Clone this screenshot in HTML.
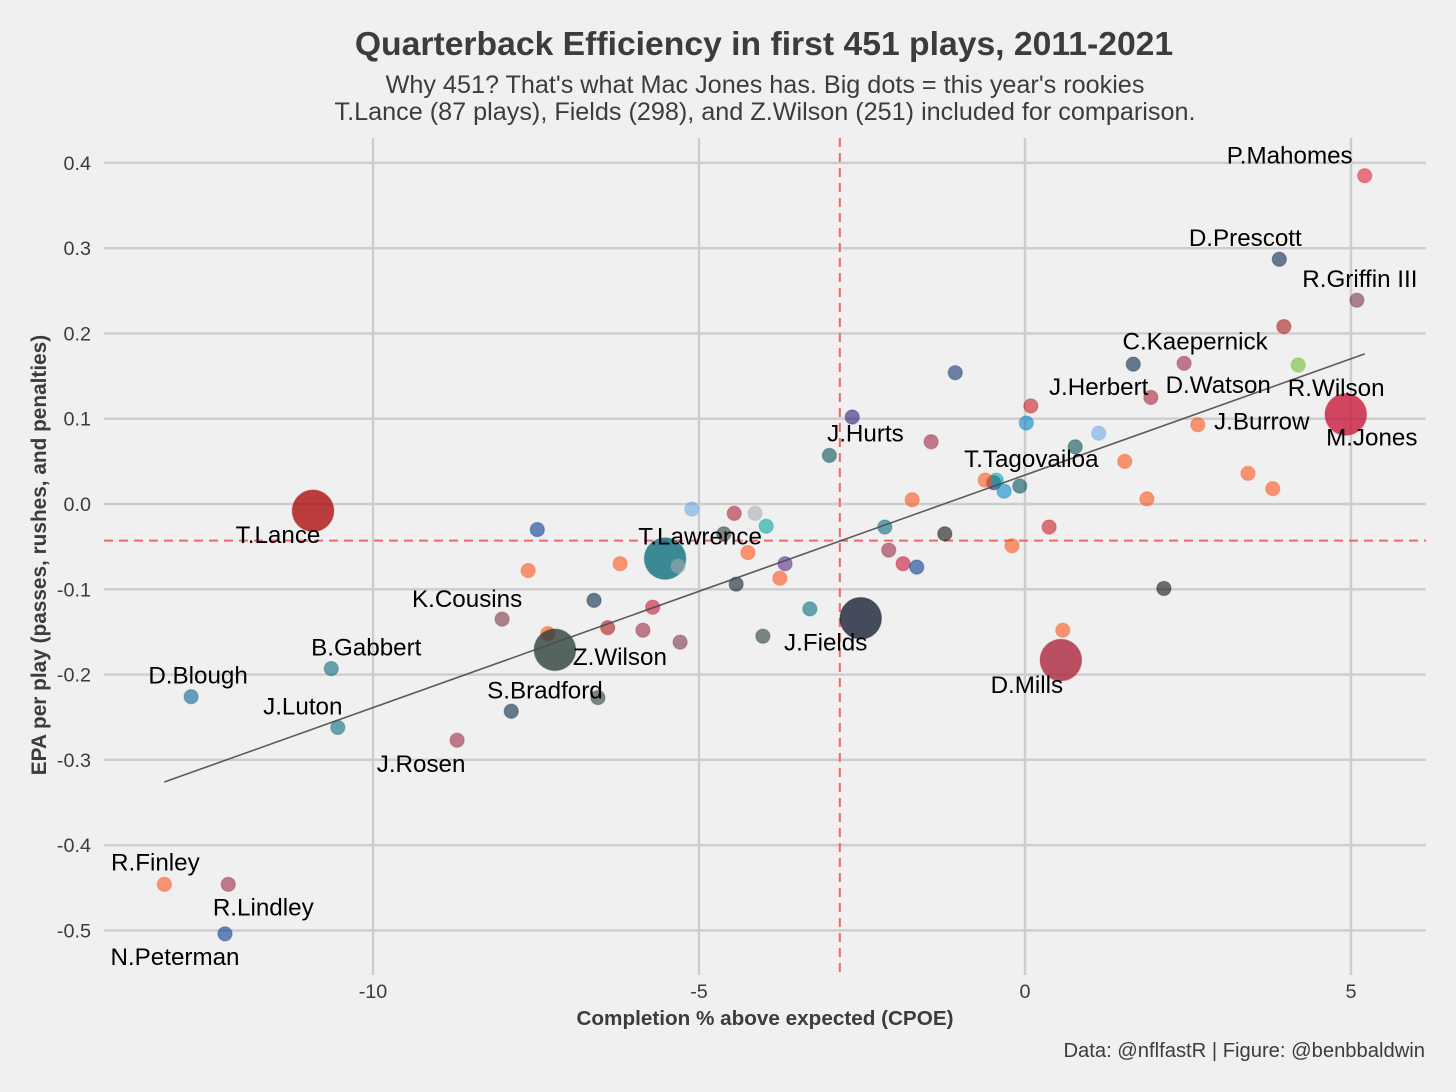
<!DOCTYPE html>
<html lang="en">
<head>
<meta charset="utf-8">
<title>Quarterback Efficiency in first 451 plays, 2011-2021</title>
<style>
html,body{margin:0;padding:0;background:#f0f0f0;width:1456px;height:1092px;overflow:hidden}
svg{display:block;font-family:"Liberation Sans",Arial,sans-serif}
</style>
</head>
<body>
<svg id="chart" xmlns="http://www.w3.org/2000/svg" width="1456" height="1092" viewBox="0 0 1456 1092">
  <rect x="0" y="0" width="1456" height="1092" fill="#f0f0f0"/>
  <g id="grid"></g>
  <g id="refs"></g>
  <g id="points"></g>
  <g id="trend"></g>
  <g id="labels"></g>
  <g id="ticks"></g>
  <text x="764" y="55" text-anchor="middle" font-size="33.7" font-weight="700" fill="#3c3c3c">Quarterback Efficiency in first 451 plays, 2011-2021</text>
  <text x="765" y="93" text-anchor="middle" font-size="25.2" fill="#3c3c3c">Why 451? That's what Mac Jones has. Big dots = this year's rookies</text>
  <text x="765" y="120" text-anchor="middle" font-size="25.2" fill="#3c3c3c">T.Lance (87 plays), Fields (298), and Z.Wilson (251) included for comparison.</text>
  <text x="765" y="1025" text-anchor="middle" font-size="20.7" font-weight="700" fill="#3c3c3c">Completion % above expected (CPOE)</text>
  <text transform="translate(46,555) rotate(-90)" text-anchor="middle" font-size="20.8" font-weight="700" fill="#3c3c3c">EPA per play (passes, rushes, and penalties)</text>
  <text x="1425" y="1057" text-anchor="end" font-size="20.2" fill="#3c3c3c">Data: @nflfastR | Figure: @benbbaldwin</text>
</svg>
<script>
const xTickLabels = ["-10", "-5", "0", "5"];
const yTickLabels = ["0.4", "0.3", "0.2", "0.1", "0.0", "-0.1", "-0.2", "-0.3", "-0.4", "-0.5"];
const meanCpoe = -2.84;
const meanEpa = -0.043;
const trendCpoe = [-13.2, 5.21];
const trendEpa = [-0.326, 0.176];

const players = ["P.Mahomes","D.Prescott","R.Griffin III","","R.Wilson","D.Watson","C.Kaepernick","","","","","J.Herbert","J.Burrow","","","","","","","","","T.Tagovailoa","","","","","J.Hurts","","","","","","","","","","","","","","","","","","","","","","","","","","","","","K.Cousins","","S.Bradford","","J.Rosen","J.Luton","B.Gabbert","D.Blough","R.Finley","R.Lindley","N.Peterman","M.Jones","T.Lance","T.Lawrence","Z.Wilson","J.Fields","D.Mills",""];
const teams = ["KC","DAL","WAS","TB","SEA","DAL","ARI","LAR","ATL","HOU","LAC","LAR2","CIN","PHI","CIN","CIN","CIN","CIN","PHI","CAR","BAL","MIA","CIN","ARI","CIN","BAL","PHI","JAX","PIT","HOU","CIN","ARI","NE","BUF","PIT","CIN","JAX","NYJ","CIN","MIN","CHI","CIN","NYJ","MIA","OAK","ATL","LAR2","CIN","BUF","CIN","DAL","NE","TB","ARI","WAS","WAS","CIN","NYJ","DAL","ARI","JAX","JAX","DET","CIN","ARI","BUF","NE","SF","JAX","NYJ","CHI","ATL","OAK"];
const rookie = [0,0,0,0,0,0,0,0,0,0,0,0,0,0,0,0,0,0,0,0,0,0,0,0,0,0,0,0,0,0,0,0,0,0,0,0,0,0,0,0,0,0,0,0,0,0,0,0,0,0,0,0,0,0,0,0,0,0,0,0,0,0,0,0,0,0,1,1,1,1,1,1,0];
const cpoe = [5.21,3.90,5.09,3.97,4.19,1.66,2.44,-1.07,1.93,0.09,0.02,1.13,2.65,0.77,1.53,3.42,3.80,1.87,-0.08,-0.32,-0.48,-0.44,-0.61,-1.44,-1.73,-2.65,-3.00,-2.15,-1.23,0.37,-0.20,-2.09,-1.87,-1.66,2.13,0.58,-3.30,-4.02,-3.76,-3.68,-4.43,-4.25,-4.62,-3.97,-4.14,-4.46,-5.11,-6.21,-7.48,-7.62,-6.61,-5.71,-6.40,-5.86,-5.29,-8.02,-7.32,-6.55,-7.88,-8.71,-10.54,-10.64,-12.79,-13.20,-12.22,-12.27,4.92,-10.92,-5.52,-7.21,-2.52,0.55,-5.32];
const epa = [0.385,0.287,0.239,0.208,0.163,0.164,0.165,0.154,0.125,0.115,0.095,0.083,0.093,0.067,0.050,0.036,0.018,0.006,0.021,0.015,0.025,0.028,0.028,0.073,0.005,0.102,0.057,-0.027,-0.035,-0.027,-0.049,-0.054,-0.070,-0.074,-0.099,-0.148,-0.123,-0.155,-0.087,-0.070,-0.094,-0.057,-0.035,-0.026,-0.011,-0.011,-0.006,-0.070,-0.030,-0.078,-0.113,-0.121,-0.145,-0.148,-0.162,-0.135,-0.152,-0.227,-0.243,-0.277,-0.262,-0.193,-0.226,-0.446,-0.446,-0.504,0.105,-0.008,-0.064,-0.171,-0.134,-0.183,-0.073];

const teamColor = {KC:"#e31837",DAL:"#002244",WAS:"#773141",TB:"#a71111",SEA:"#69be28",LAR:"#0a2f6b",ATL:"#a71930",HOU:"#c8161d",LAC:"#0080c6",LAR2:"#6aa5e6",CIN:"#fb4f14",PHI:"#004c54",CAR:"#0085ca",BAL:"#241773",MIA:"#00a0a0",ARI:"#97233f",JAX:"#006778",PIT:"#0a0a0a",NE:"#c60c30",BUF:"#00338d",NYJ:"#203731",MIN:"#4f2683",CHI:"#0b162a",OAK:"#a5acaf",DET:"#006090",SF:"#aa0000"};

const labelOffset = {
  "P.Mahomes":[-75,-12],"D.Prescott":[-34,-13],"R.Griffin III":[3,-13],"R.Wilson":[38,31],
  "D.Watson":[85,29],"C.Kaepernick":[11,-14],"J.Herbert":[0,-38],"J.Burrow":[64,5],
  "T.Tagovailoa":[35,-13],"J.Hurts":[36,-14],"K.Cousins":[-35,-12],"S.Bradford":[-53,1],
  "J.Rosen":[-36,32],"J.Luton":[-35,-13],"B.Gabbert":[35,-13],"D.Blough":[7,-13],
  "R.Finley":[-9,-14],"R.Lindley":[35,31],"N.Peterman":[-50,31],"M.Jones":[26,31],
  "T.Lance":[-35,32],"T.Lawrence":[35,-14],"Z.Wilson":[65,15],"J.Fields":[-35,32],"D.Mills":[-34,33]
};

const NS = "http://www.w3.org/2000/svg";
const plotLeft = 104, plotRight = 1426, plotTop = 138, plotBottom = 975;
function xScale(v){ return 1025 + 65.2 * v; }
function yScale(v){ return 504 - 852.8 * v; }
function make(tag, attrs, parent){
  const el = document.createElementNS(NS, tag);
  for (const k in attrs) el.setAttribute(k, attrs[k]);
  parent.appendChild(el);
  return el;
}

const gridG = document.getElementById("grid");
const refsG = document.getElementById("refs");
const pointsG = document.getElementById("points");
const trendG = document.getElementById("trend");
const labelsG = document.getElementById("labels");
const ticksG = document.getElementById("ticks");

xTickLabels.forEach(function(t){
  const x = xScale(parseFloat(t));
  const line = make("line", {x1:x, x2:x, y1:plotTop, y2:plotBottom, stroke:"#cdcdcd", "stroke-width":2.4}, gridG);
  
  
  const label = make("text", {x:x, y:998, "text-anchor":"middle", "font-size":19.8, fill:"#3c3c3c"}, ticksG);
  
  
  label.textContent = t;
});
yTickLabels.forEach(function(t){
  const y = yScale(parseFloat(t));
  const line = make("line", {x1:plotLeft, x2:plotRight, y1:y, y2:y, stroke:"#cdcdcd", "stroke-width":2.4}, gridG);
  
  
  const label = make("text", {x:91, y:y + 7, "text-anchor":"end", "font-size":19.8, fill:"#3c3c3c"}, ticksG);
  
  
  label.textContent = t;
});

const vMean = make("line", {x1:xScale(meanCpoe), x2:xScale(meanCpoe), y1:plotTop, y2:plotBottom, stroke:"#f0666a", "stroke-width":2, "stroke-dasharray":"9 6"}, refsG);


const hMean = make("line", {x1:plotLeft, x2:plotRight, y1:yScale(meanEpa), y2:yScale(meanEpa), stroke:"#f0666a", "stroke-width":2, "stroke-dasharray":"9 6"}, refsG);



cpoe.forEach(function(v, i){
  const big = rookie[i] === 1;
  const color = teamColor[teams[i]];
  const dot = make("circle", {
    cx:xScale(v), cy:yScale(epa[i]), r:big ? 20.8 : 7.1,
    fill:color, "fill-opacity":big ? 0.75 : 0.58,
    stroke:color, "stroke-opacity":big ? 0.3 : 0.3, "stroke-width":1.2
  }, pointsG);
  
  
});

const trend = make("line", {
  x1:xScale(trendCpoe[0]), y1:yScale(trendEpa[0]),
  x2:xScale(trendCpoe[1]), y2:yScale(trendEpa[1]),
  stroke:"#4a4a4a", "stroke-width":1.6, "stroke-opacity":0.9
}, trendG);



players.forEach(function(name, i){
  if (!name) return;
  const off = labelOffset[name];
  const t = make("text", {
    x:xScale(cpoe[i]) + off[0], y:yScale(epa[i]) + off[1],
    "text-anchor":"middle", "font-size":24.2, fill:"#000"
  }, labelsG);
  
  
  t.textContent = name;
});
</script>
</body>
</html>
